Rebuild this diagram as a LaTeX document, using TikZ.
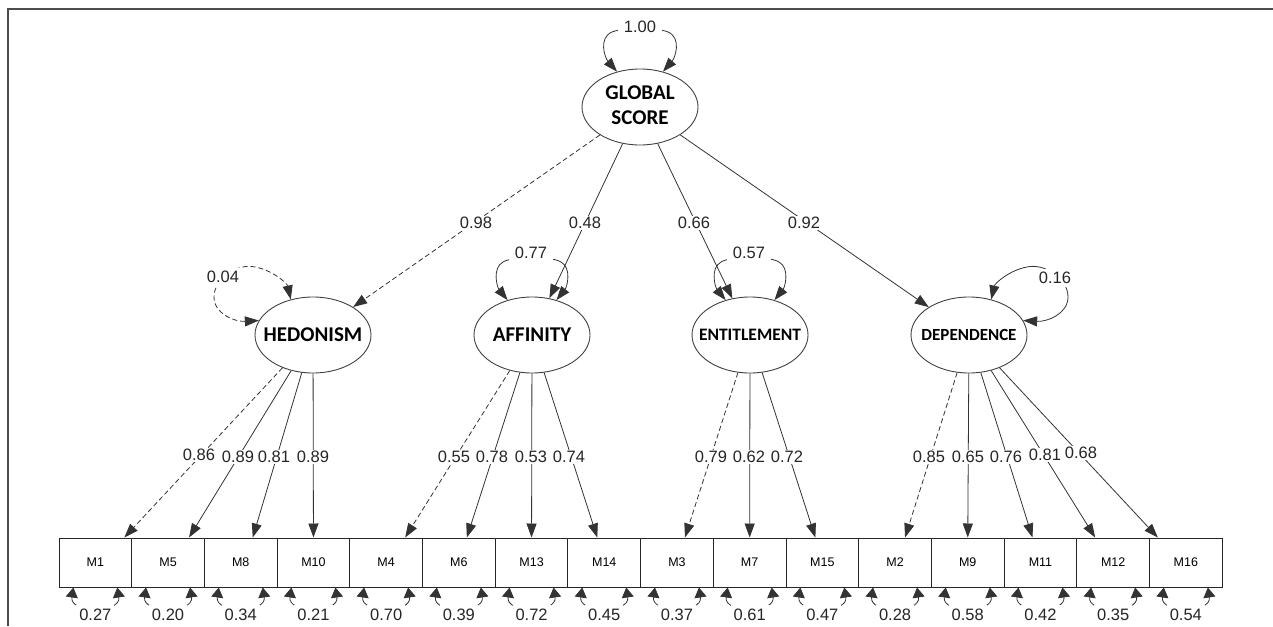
\documentclass[tikz,border=0pt]{standalone}
\usepackage{fontspec}
\setmainfont{Liberation Sans}
\newfontfamily\latfont{Carlito}
\usetikzlibrary{arrows.meta,shapes.geometric}
\tikzset{
  latent/.style={ellipse, draw=black!75, line width=0.9pt, minimum width=116pt, minimum height=76pt, inner sep=0pt, font=\latfont\bfseries\fontsize{21}{25}\selectfont},
  obs/.style={rectangle, draw=black!85, line width=1pt, minimum width=72.7pt, minimum height=49pt, inner sep=0pt, font=\fontsize{12.5}{14}\selectfont},
  conn/.style={draw=black!80, line width=0.8pt, -{Triangle[length=14pt,width=10pt]}},
  dsh/.style={dash pattern=on 5pt off 3pt},
  num/.style={fill=white, inner sep=1pt, text=black!85, font=\fontsize{16.5}{19}\selectfont},
  vnum/.style={num, inner xsep=6pt, inner ysep=3pt},
  enum/.style={num, inner xsep=3pt, inner ysep=4pt},
  var/.style={draw=black!80, line width=0.8pt, {Triangle[length=14pt,width=10pt]}-{Triangle[length=14pt,width=10pt]}},
  err/.style={draw=black!80, line width=0.8pt, {Triangle[length=10pt,width=12pt]}-{Triangle[length=10pt,width=12pt]}},
  frame/.style={draw=black!70, line width=1.3pt}
}
\begin{document}
\begin{tikzpicture}[x=1pt,y=-1pt]
\useasboundingbox (0,0) rectangle (1273,626);
\draw[frame] (8,626) -- (8,9) -- (1273,9);

% latent variables
\node[latent] (g) at (640,107) {\makebox[0pt]{\begin{tabular}{@{}c@{}}GLOBAL\\SCORE\end{tabular}}};
\node[latent] (hed) at (313,335) {\makebox[0pt]{HEDONISM}};
\node[latent] (aff) at (532,335) {\makebox[0pt]{AFFINITY}};
\node[latent, font=\latfont\bfseries\fontsize{17.5}{20}\selectfont] (ent) at (750,335) {\makebox[0pt]{ENTITLEMENT}};
\node[latent, font=\latfont\bfseries\fontsize{17}{20}\selectfont] (dep) at (969,335) {\makebox[0pt]{DEPENDENCE}};

% observed variables
\foreach \n [count=\i from 0] in {1,5,8,10,4,6,13,14,3,7,15,2,9,11,12,16}
  \node[obs] (M\n) at ({59+72.7*(\i+0.5)},562.5) {M\n};

% second-order loadings
\draw[conn,dsh] (g) -- (hed);
\draw[conn] (g) -- (aff);
\draw[conn] (g) -- (ent);
\draw[conn] (g) -- (dep);

% first-order loadings
\draw[conn,dsh] (hed) -- ([xshift=29pt]M1.north);
\draw[conn] (hed) -- ([xshift=21pt]M5.north);
\draw[conn] (hed) -- ([xshift=12pt]M8.north);
\draw[conn] (hed) -- (M10.north);
\draw[conn,dsh] (aff) -- ([xshift=19pt]M4.north);
\draw[conn] (aff) -- ([xshift=8pt]M6.north);
\draw[conn] (aff) -- (M13.north);
\draw[conn] (aff) -- ([xshift=-7pt]M14.north);
\draw[conn,dsh] (ent) -- ([xshift=8pt]M3.north);
\draw[conn] (ent) -- (M7.north);
\draw[conn] (ent) -- ([xshift=-7pt]M15.north);
\draw[conn,dsh] (dep) -- ([xshift=10pt]M2.north);
\draw[conn] (dep) -- (M9.north);
\draw[conn] (dep) -- ([xshift=-8pt]M11.north);
\draw[conn] (dep) -- ([xshift=-18pt]M12.north);
\draw[conn] (dep) -- ([xshift=-28pt]M16.north);

% variances of latent variables
\draw[var] (g.123) .. controls (605,58) and (598,38) .. (612,32)
  .. controls (625,27) and (655,27) .. (668,32)
  .. controls (682,38) and (675,58) .. (g.57);
\draw[var,dsh] (hed.165) .. controls (235,322) and (214,314) .. (214,297)
  .. controls (214,278) and (238,263) .. (255,267)
  .. controls (272,270) and (287,283) .. (hed.122);
\draw[var] (aff.125) .. controls (497,287) and (492,268) .. (503,262)
  .. controls (512,256) and (552,256) .. (561,262)
  .. controls (572,268) and (567,287) .. (aff.55);
\draw[var] (ent.125) .. controls (715,287) and (710,268) .. (721,262)
  .. controls (730,256) and (770,256) .. (779,262)
  .. controls (790,268) and (785,287) .. (ent.55);
\draw[var] (dep.15) .. controls (1047,322) and (1068,314) .. (1068,297)
  .. controls (1068,278) and (1044,263) .. (1027,267)
  .. controls (1010,270) and (995,283) .. (dep.58);

% error variances
\foreach \n in {1,5,8,10,4,6,13,14,3,7,15,2,9,11,12,16}
  \draw[err] ([xshift=-22pt]M\n.south) .. controls +(-4,26) and +(4,26) .. ([xshift=22pt]M\n.south);

% labels
\node[vnum] (l1) at (640,27) {1.00};
\node[num, inner sep=3pt] (l2) at (223,277) {0.04};
\node[vnum] (l3) at (531,253) {0.77};
\node[vnum] (l4) at (749,253) {0.57};
\node[num, inner sep=3pt] (l5) at (1055,278) {0.16};

\node[num] (t1) at (476,223) {0.98};
\node[num] (t2) at (585,223) {0.48};
\node[num] (t3) at (694,223) {0.66};
\node[num] (t4) at (804,223) {0.92};

\node[num] (b1) at (199,455) {0.86};
\node[num] (b2) at (238,457) {0.89};
\node[num] (b3) at (274,457) {0.81};
\node[num] (b4) at (313,457) {0.89};
\node[num] (b5) at (454,457) {0.55};
\node[num] (b6) at (492,457) {0.78};
\node[num] (b7) at (531,457) {0.53};
\node[num] (b8) at (569,457) {0.74};
\node[num] (b9) at (711,457) {0.79};
\node[num] (b10) at (749,457) {0.62};
\node[num] (b11) at (787,457) {0.72};
\node[num] (b12) at (929,457) {0.85};
\node[num] (b13) at (968,457) {0.65};
\node[num] (b14) at (1006,457) {0.76};
\node[num] (b15) at (1045,455) {0.81};
\node[num] (b16) at (1081,453) {0.68};

\foreach \n/\v in {1/0.27,5/0.20,8/0.34,10/0.21,4/0.70,6/0.39,13/0.72,14/0.45,3/0.37,7/0.61,15/0.47,2/0.28,9/0.58,11/0.42,12/0.35,16/0.54}
  \node[enum] (e\n) at (M\n.center |- 0,615) {\v};
\end{tikzpicture}
\end{document}
